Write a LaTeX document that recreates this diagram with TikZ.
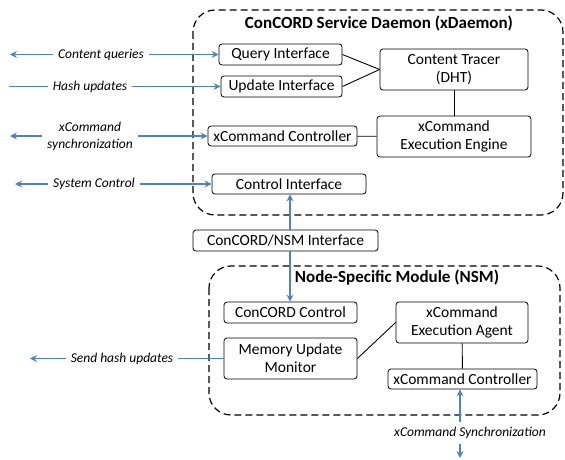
\documentclass[tikz,border=0pt]{standalone}
\usepackage{fontspec}
\setmainfont{Carlito}
\usetikzlibrary{arrows.meta,calc}
\definecolor{linkblue}{RGB}{79,129,189}
\tikzset{
%Define standard arrow tip
>={Stealth[length=7pt,width=7pt,inset=2.5pt]},
%Define styles for boxes and lines
box/.style={draw, line width=0.8pt, rounded corners=3pt, fill=white, align=center, font=\fontsize{15.5}{18}\selectfont, inner sep=1pt},
module/.style={draw, line width=1.2pt, rounded corners=22pt, dash pattern=on 7pt off 4pt},
title/.style={font=\fontsize{17}{18}\selectfont\bfseries},
extlabel/.style={font=\fontsize{13.5}{17}\selectfont\itshape, align=center, inner sep=5pt},
link/.style={linkblue, line width=1.4pt},
plain line/.style={line width=0.9pt},
}

\begin{document}
\begin{tikzpicture}[x=1pt,y=-1pt]
    \useasboundingbox (0,0) rectangle (565,460);

    % Module frames
    \draw[module] (193,10) rectangle (563,215);
    \draw[module] (209,266) rectangle (560,415);
    \node[title] (daemontitle) at (379,23) {ConCORD Service Daemon (xDaemon)};
    \node[title] (nsmtitle) at (397,278) {Node-Specific Module (NSM)};

    % xDaemon parts
    \node[box, minimum width=123pt, minimum height=21pt] (query) at (280.5,54.5) {Query Interface};
    \node[box, minimum width=121pt, minimum height=21pt] (update) at (281.5,86.5) {Update Interface};
    \node[box, minimum width=148pt, minimum height=41pt] (tracer) at (454,69.5) {Content Tracer\\(DHT)};
    \node[box, minimum width=149pt, minimum height=20pt] (xctl) at (282.5,136) {xCommand Controller};
    \node[box, minimum width=154pt, minimum height=41pt] (engine) at (454,136.5) {xCommand\\Execution Engine};
    \node[box, minimum width=154pt, minimum height=20pt] (ctrlif) at (289,184) {Control Interface};

    \draw[plain line] (query.east) -- (tracer.west);
    \draw[plain line] (update.east) -- (tracer.west);
    \draw[plain line] (tracer) -- (engine);
    \draw[plain line] (xctl) -- (engine);

    % NSM parts
    \node[box, minimum width=185pt, minimum height=21pt] (nsmif) at (285.5,240.5) {ConCORD/NSM Interface};
    \node[box, minimum width=133pt, minimum height=21pt] (cctl) at (290.5,312.5) {ConCORD Control};
    \node[box, minimum width=133pt, minimum height=41pt] (memory) at (290.5,358.5) {Memory Update\\Monitor};
    \node[box, minimum width=132pt, minimum height=41pt] (agent) at (462,322.5) {xCommand\\Execution Agent};
    \node[box, minimum width=149pt, minimum height=20pt] (xctltwo) at (462.5,379) {xCommand Controller};

    \draw[plain line] (memory.east) -- (agent.west);
    \draw[plain line] (agent) -- (xctltwo);

    % Between the modules
    \coordinate (axis) at (290,0);
    \draw[link,<-] (ctrlif.south -| axis) -- (nsmif.north -| axis);
    \draw[link,->] (nsmif.south -| axis) -- (cctl.north -| axis);

    % Outside links
    \coordinate (cqend) at (10,54.5);
    \coordinate (huend) at (9,86.5);
    \coordinate (xsend) at (10,136);
    \coordinate (scend) at (15,184);
    \coordinate (shend) at (30,358.5);
    \coordinate (sync) at (460,458);

    \node[extlabel] (cq) at (101,54.5) {Content queries};
    \node[extlabel] (hu) at (90,86.5) {Hash updates};
    \node[extlabel] (xs) at (90,136) {xCommand\\synchronization};
    \node[extlabel] (sc) at (94,184) {System Control};
    \node[extlabel] (sh) at (122,358.5) {Send hash updates};
    \node[extlabel] (sy) at (470,433) {xCommand Synchronization};

    \draw[link,->] (cq) -- (cqend);
    \draw[link,->] (cq) -- (query);
    \draw[link] (hu) -- (huend);
    \draw[link,->] (hu) -- (update);
    \draw[link,->] (xs) -- (xsend);
    \draw[link,->] (xs) -- (xctl);
    \draw[link,->] (sc) -- (scend);
    \draw[link,->] (sc) -- (ctrlif);
    \draw[link,->] (sh) -- (shend);
    \draw[link] (sh) -- (memory);
    \draw[link,<-] (xctltwo.south -| sync) -- (sy.north -| sync);
    \draw[link,->] (sy.south -| sync) -- (sync);
\end{tikzpicture}
\end{document}
